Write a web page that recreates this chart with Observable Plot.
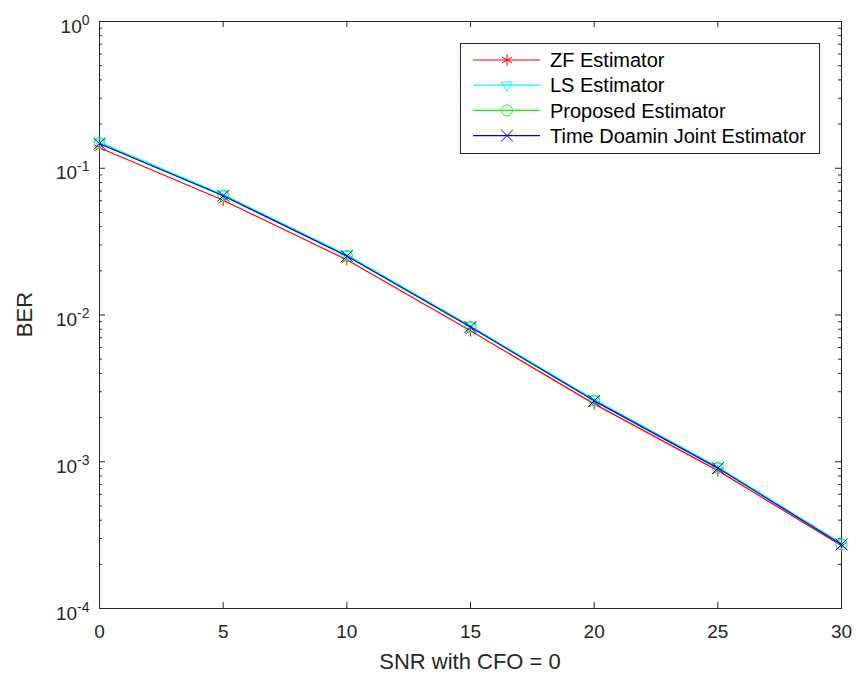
<!DOCTYPE html>
<html><head><meta charset="utf-8">
<script src="https://cdn.jsdelivr.net/npm/d3@7"></script>
<script src="https://cdn.jsdelivr.net/npm/@observablehq/plot@0.6"></script>
<style>body{margin:0;background:#fff} #chart svg{display:block}</style>
</head><body><div id="chart"></div>
<script>
const snr = [0, 5, 10, 15, 20, 25, 30];
const zfBER = [0.138, 0.0605, 0.0238, 0.0078, 0.00248, 0.00087, 0.000268];
const lsBER = [0.150, 0.0662, 0.0257, 0.0084, 0.00265, 0.00092, 0.000278];
const proposedBER = [0.148, 0.0652, 0.0253, 0.0083, 0.00261, 0.00091, 0.000274];
const tdjBER = [0.147, 0.0650, 0.0252, 0.00828, 0.0026, 0.000905, 0.000273];
const seriesNames = ["ZF Estimator", "LS Estimator", "Proposed Estimator", "Time Doamin Joint Estimator"];
const seriesColors = ["#ff0000", "#00ffff", "#00ff00", "#0000ff"];
const xTicks = [0, 5, 10, 15, 20, 25, 30];
const yTicks = [1e-4, 1e-3, 1e-2, 1e-1, 1];
const yTickExps = ["-4", "-3", "-2", "-1", "0"];
const xLabel = "SNR with CFO = 0";
const yLabel = "BER";

const seriesValues = [zfBER, lsBER, proposedBER, tdjBER];

const triDown = {
  draw(ctx, size) {
    const s = Math.sqrt(size / Math.PI);
    ctx.moveTo(-s, -s * 0.6);
    ctx.lineTo(s, -s * 0.6);
    ctx.lineTo(0, s * 1.1);
    ctx.closePath();
  }
};
const plotSymbols = ["asterisk", triDown, "circle", "times"];
const d3Symbols = [d3.symbolAsterisk, triDown, d3.symbolCircle, d3.symbolTimes];

const W = 857, H = 679, mL = 99, mR = 16, mT = 21, mB = 71;
const pw = W - mL - mR, ph = H - mT - mB;
const axisColor = "#262626";

// minor log ticks (2..9 per decade)
const yMinor = [];
for (let k = 0; k < yTicks.length - 1; k++) for (let m = 2; m <= 9; m++) yMinor.push(m * yTicks[k]);

const marks = [
  Plot.frame({stroke: axisColor, strokeWidth: 1}),
  Plot.tickX(xTicks, {x: d => d, insetTop: ph - 6, stroke: axisColor}),
  Plot.tickX(xTicks, {x: d => d, insetBottom: ph - 6, stroke: axisColor}),
  Plot.tickY(yTicks, {y: d => d, insetRight: pw - 6, stroke: axisColor}),
  Plot.tickY(yTicks, {y: d => d, insetLeft: pw - 6, stroke: axisColor}),
  Plot.tickY(yMinor, {y: d => d, insetRight: pw - 3, stroke: axisColor}),
  Plot.tickY(yMinor, {y: d => d, insetLeft: pw - 3, stroke: axisColor}),
  Plot.axisX(xTicks, {tickSize: 0, tickPadding: 16, label: null, fill: axisColor}),
  Plot.axisY(yTicks, {tickSize: 0, tickPadding: 10, label: null, fill: axisColor,
    tickFormat: d => yTickExps[yTicks.indexOf(d)]})
];

seriesValues.forEach((vals, s) => {
  const data = snr.map((x, i) => ({x, y: vals[i]}));
  marks.push(Plot.line(data, {x: "x", y: "y", stroke: seriesColors[s], strokeWidth: 1.2}));
  marks.push(Plot.dot(data, {x: "x", y: "y", symbol: plotSymbols[s], r: 5.5, stroke: seriesColors[s], fill: "none", strokeWidth: 1}));
});

const svg = Plot.plot({
  width: W, height: H,
  marginLeft: mL, marginRight: mR, marginTop: mT, marginBottom: mB,
  style: {fontFamily: "'Liberation Sans', Arial, sans-serif", fontSize: "19px", color: axisColor, background: "white"},
  x: {domain: [0, 30], axis: null},
  y: {type: "log", domain: [1e-4, 1], axis: null},
  marks
});

const S = d3.select(svg);
// superscript exponents on y tick labels
S.selectAll('g[aria-label="y-axis tick label"] text').each(function () {
  const e = this.textContent;
  const t = d3.select(this);
  t.text("10").attr("y", "11px").attr("dy", null);
  t.append("tspan").attr("dy", "-8px").attr("font-size", "14px").text(e);
});

// axis labels
S.append("text").attr("x", mL + pw / 2).attr("y", 669).attr("text-anchor", "middle")
  .attr("font-size", "22px").attr("fill", axisColor).text(xLabel);
S.append("text").attr("transform", `translate(32,${mT + ph / 2}) rotate(-90)`).attr("text-anchor", "middle")
  .attr("font-size", "22px").attr("fill", axisColor).text(yLabel);

// legend
const lg = S.append("g");
lg.append("rect").attr("x", 460.5).attr("y", 43.5).attr("width", 359).attr("height", 110)
  .attr("fill", "white").attr("stroke", axisColor).attr("stroke-width", 1);
seriesNames.forEach((name, i) => {
  const cy = 60 + i * 25.2;
  lg.append("line").attr("x1", 473).attr("x2", 540).attr("y1", cy).attr("y2", cy)
    .attr("stroke", seriesColors[i]).attr("stroke-width", 1.2);
  lg.append("path").attr("d", d3.symbol().type(d3Symbols[i]).size(Math.PI * 5.5 * 5.5)())
    .attr("transform", `translate(507,${cy})`).attr("fill", "none").attr("stroke", seriesColors[i]).attr("stroke-width", 1);
  lg.append("text").attr("x", 550).attr("y", cy).attr("dy", "0.36em").attr("font-size", "20px")
    .attr("text-anchor", "start").attr("fill", "#000").text(name);
});

document.getElementById("chart").appendChild(svg);
</script>
</body></html>
